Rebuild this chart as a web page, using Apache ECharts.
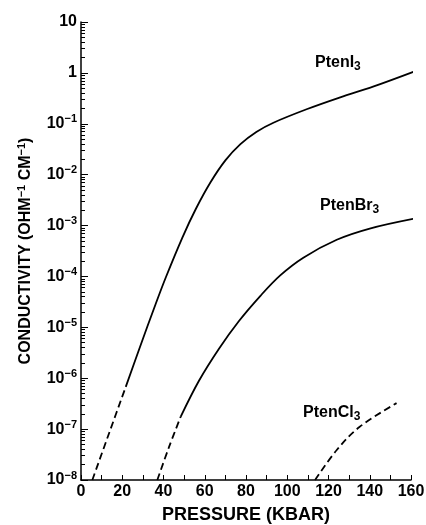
<!DOCTYPE html>
<html>
<head>
<meta charset="utf-8">
<script src="https://cdn.jsdelivr.net/npm/echarts@6/dist/echarts.min.js"></script>
<style>
html,body{margin:0;padding:0;background:#fff;}
#chart{width:426px;height:525px;}
</style>
</head>
<body>
<div id="chart"></div>
<script>
// Pressure (kbar) vs conductivity (ohm^-1 cm^-1)
const ptenI3Dashed = [[5.5, 1e-8], [13.7, 8.5e-8], [21.7, 6.76e-7]];
const ptenI3Solid = [[21.7, 6.76e-7], [28.2, 3.72e-6], [36.2, 2.88e-5], [41.1, 9.55e-5], [49.1, 5.75e-4],
  [55.6, 2.09e-3], [62.8, 7.08e-3], [70, 1.91e-2], [77.3, 3.98e-2], [85, 6.92e-2], [93.3, 0.105],
  [109.7, 0.195], [125.7, 0.331], [141.6, 0.537], [163, 1.12]];
const ptenBr3Dashed = [[37, 1e-8], [42.7, 4.47e-8], [48.3, 1.74e-7]];
const ptenBr3Solid = [[48.3, 1.74e-7], [57.2, 8.91e-7], [66.9, 3.80e-6], [76.5, 1.32e-5], [87, 4.17e-5],
  [96.6, 1.05e-4], [107.8, 2.34e-4], [124, 5.25e-4], [140, 8.71e-4], [161, 1.35e-3]];
const ptenCl3Dashed = [[113.5, 1e-8], [124, 3.89e-8], [135, 1.10e-7], [153, 3.24e-7]];

const xTickLabels = [0, 20, 40, 60, 80, 100, 120, 140, 160];
const yTickValues = [1e-8, 1e-7, 1e-6, 1e-5, 1e-4, 1e-3, 1e-2, 1e-1, 1, 10];
const yMinorMultipliers = [2, 3, 4, 5, 6, 7, 8, 9];
const seriesLabels = ['PtenI', 'PtenBr', 'PtenCl'];

const yMinorTickValues = [];
yTickValues.slice(0, -1).forEach(d => yMinorMultipliers.forEach(k => yMinorTickValues.push(k * d)));

const FONT = "'Liberation Sans', Arial, sans-serif";

function yLabel(v) {
  const n = Math.round(Math.log10(v));
  if (n === 1) return '{b|10}';
  if (n === 0) return '{b|1}';
  return '{b|10}{s|' + (n < 0 ? '\u2212' + (-n) : n) + '}';
}

const chart = echarts.init(document.getElementById('chart'), null, {renderer: 'canvas'});

const lineBase = {type: 'line', showSymbol: false, symbol: 'none', smooth: 0.35, clip: false, silent: true};
const solid = {color: '#000', width: 1.8, type: 'solid'};
const dashed = {color: '#000', width: 1.8, type: [7, 4]};

function labelText(name, x, y) {
  return {
    type: 'text', x: x, y: y, silent: true,
    style: {
      text: '{a|' + name + '}{s|3}',
      rich: {
        a: {fontFamily: FONT, fontWeight: 'bold', fontSize: 16, lineHeight: 20, fill: '#000', color: '#000'},
        s: {fontFamily: FONT, fontWeight: 'bold', fontSize: 12, lineHeight: 20, verticalAlign: 'bottom', fill: '#000', color: '#000'}
      }
    }
  };
}

chart.setOption({
  animation: false,
  backgroundColor: '#fff',
  grid: {left: 81, right: 15, top: 22, bottom: 45, containLabel: false, outerBoundsMode: 'none'},
  xAxis: {
    type: 'value', min: 0, max: 160, interval: 20,
    name: 'PRESSURE (KBAR)', nameLocation: 'middle', nameGap: 26,
    nameTextStyle: {fontFamily: FONT, fontWeight: 'bold', fontSize: 18, color: '#000'},
    axisLine: {show: true, onZero: false, lineStyle: {color: '#000', width: 1.5}},
    axisTick: {show: true, inside: true, length: 5, lineStyle: {color: '#000', width: 1}},
    minorTick: {show: true, splitNumber: 2, length: 5, lineStyle: {color: '#000', width: 1}},
    axisLabel: {
      fontFamily: FONT, fontWeight: 'bold', fontSize: 16, color: '#000', margin: 4,
      customValues: xTickLabels
    },
    splitLine: {show: false}, minorSplitLine: {show: false}
  },
  yAxis: [{
    type: 'log', min: 1e-8, max: 10, logBase: 10,
    name: '{n|CONDUCTIVITY (OHM}{s|\u22121}{n| CM}{s|\u22121}{n|)}',
    nameLocation: 'middle', nameGap: 45,
    nameTextStyle: {
      rich: {
        n: {fontFamily: FONT, fontWeight: 'bold', fontSize: 16, lineHeight: 20, color: '#000'},
        s: {fontFamily: FONT, fontWeight: 'bold', fontSize: 11, lineHeight: 20, verticalAlign: 'top', color: '#000'}
      }
    },
    axisLine: {show: true, onZero: false, lineStyle: {color: '#000', width: 1.5}},
    axisTick: {show: true, inside: true, length: 7, customValues: yTickValues, lineStyle: {color: '#000', width: 1}},
    axisLabel: {
      customValues: yTickValues, margin: 4,
      formatter: yLabel,
      rich: {
        b: {fontFamily: FONT, fontWeight: 'bold', fontSize: 16, lineHeight: 20, color: '#000'},
        s: {fontFamily: FONT, fontWeight: 'bold', fontSize: 11, lineHeight: 20, verticalAlign: 'top', color: '#000'}
      }
    },
    splitLine: {show: false}
  }, {
    type: 'log', min: 1e-8, max: 10, logBase: 10, position: 'left',
    axisLine: {show: false},
    axisTick: {show: true, inside: true, length: 4, customValues: yMinorTickValues, lineStyle: {color: '#000', width: 1}},
    axisLabel: {show: false},
    splitLine: {show: false}
  }],
  series: [
    Object.assign({}, lineBase, {data: ptenI3Dashed, lineStyle: dashed}),
    Object.assign({}, lineBase, {data: ptenI3Solid, lineStyle: solid}),
    Object.assign({}, lineBase, {data: ptenBr3Dashed, lineStyle: dashed}),
    Object.assign({}, lineBase, {data: ptenBr3Solid, lineStyle: solid}),
    Object.assign({}, lineBase, {data: ptenCl3Dashed, lineStyle: dashed})
  ],
  graphic: [
    labelText(seriesLabels[0], 315, 53),
    labelText(seriesLabels[1], 320, 196),
    labelText(seriesLabels[2], 303, 403)
  ]
});
</script>
</body>
</html>
